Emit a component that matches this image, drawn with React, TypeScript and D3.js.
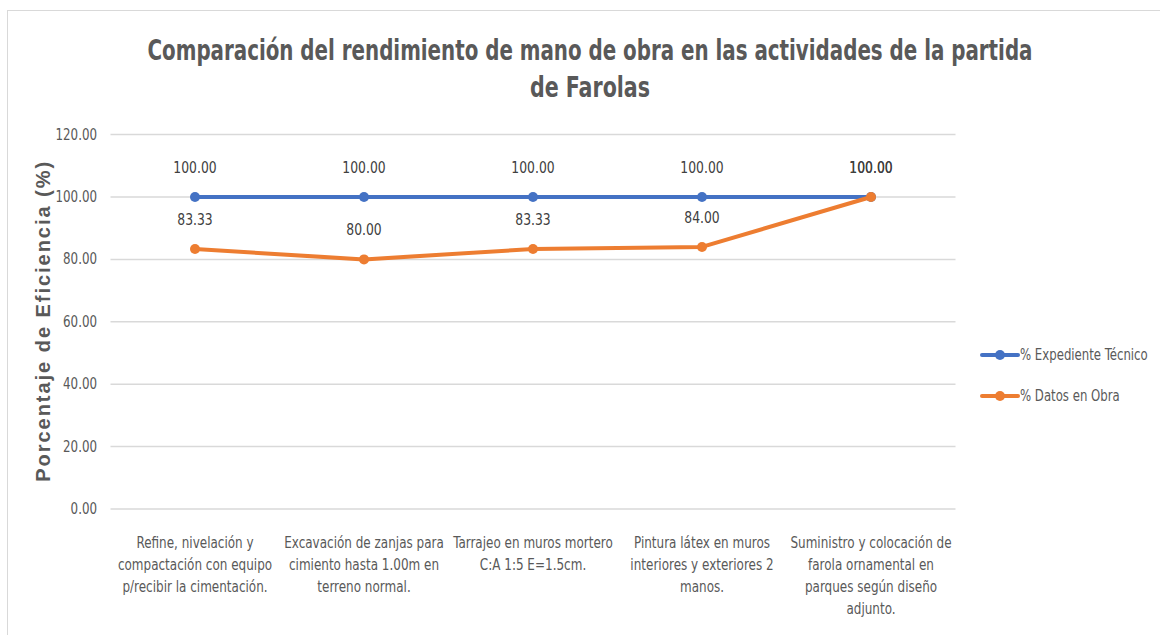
import React, { useEffect, useRef } from "react";
import * as d3 from "d3";

const categories = [
  ["Refine, nivelación y", "compactación con equipo", "p/recibir la cimentación."],
  ["Excavación de zanjas para", "cimiento hasta 1.00m en", "terreno normal."],
  ["Tarrajeo en muros mortero", "C:A 1:5 E=1.5cm."],
  ["Pintura látex en muros", "interiores y exteriores 2", "manos."],
  ["Suministro y colocación de", "farola ornamental en", "parques según diseño", "adjunto."],
];
const expediente = [100, 100, 100, 100, 100];
const datosObra = [83.33, 80.0, 83.33, 84.0, 100.0];
const yTicks = [0, 20, 40, 60, 80, 100, 120];

const series = [
  { name: "% Expediente Técnico", values: expediente, color: "#4472C4" },
  { name: "% Datos en Obra", values: datosObra, color: "#ED7D31" },
];

const NARROW = "'DejaVu Sans Condensed', 'Liberation Sans Narrow', sans-serif";

export default function App() {
  const svgRef = useRef<SVGSVGElement>(null);
  const width = 1160;
  const height = 635;
  const margin = { top: 134.6, left: 110.5, right: 204.5, bottom: 126 };

  useEffect(() => {
    if (!svgRef.current) return;
    const svg = d3.select(svgRef.current);
    svg.selectAll("*").remove();

    // chart frame
    svg.append("rect")
      .attr("x", 7.5).attr("y", 10.5)
      .attr("width", 1170).attr("height", 650)
      .attr("fill", "#fff").attr("stroke", "#d9d9d9");

    const x = d3.scaleBand<number>()
      .domain(d3.range(categories.length))
      .range([margin.left, width - margin.right]);
    const y = d3.scaleLinear()
      .domain([0, 120])
      .range([height - margin.bottom, margin.top]);
    const cx = (i: number) => (x(i) || 0) + x.bandwidth() / 2;

    // condensed text helper: squeeze horizontally around the anchor point
    const narrowText = (parent: any, px: number, py: number, str: string, size: number, sx: number, anchor: string, fill: string) =>
      parent.append("text")
        .attr("transform", `translate(${px},${py}) scale(${sx},1)`)
        .attr("text-anchor", anchor)
        .attr("font-family", NARROW).attr("font-size", size)
        .attr("fill", fill)
        .text(str);

    // title
    svg.append("text")
      .attr("x", 590).attr("y", 60)
      .attr("text-anchor", "middle")
      .attr("fill", "#595959")
      .attr("font-family", NARROW)
      .attr("font-weight", "bold")
      .attr("font-size", 28)
      .attr("textLength", 885).attr("lengthAdjust", "spacingAndGlyphs")
      .text("Comparación del rendimiento de mano de obra en las actividades de la partida");
    svg.append("text")
      .attr("x", 590).attr("y", 97)
      .attr("text-anchor", "middle")
      .attr("fill", "#595959")
      .attr("font-family", NARROW)
      .attr("font-weight", "bold")
      .attr("font-size", 28)
      .attr("textLength", 120).attr("lengthAdjust", "spacingAndGlyphs")
      .text("de Farolas");

    // gridlines + y labels
    const yAxis = svg.append("g");
    yAxis.selectAll("line").data(yTicks).enter().append("line")
      .attr("x1", margin.left).attr("x2", width - margin.right)
      .attr("y1", d => y(d)).attr("y2", d => y(d))
      .attr("stroke", "#d9d9d9").attr("stroke-width", 1.5);
    yTicks.forEach(t => {
      narrowText(yAxis, 97, y(t) + 5, d3.format(".2f")(t), 15, 0.88, "end", "#595959");
    });

    // y title
    svg.append("text")
      .attr("transform", `translate(50,${(y(0) + y(120)) / 2}) rotate(-90)`)
      .attr("text-anchor", "middle")
      .attr("font-family", "'Liberation Sans', Arial, sans-serif")
      .attr("font-weight", "bold").attr("font-size", 20)
      .attr("fill", "#595959")
      .attr("textLength", 320).attr("lengthAdjust", "spacing")
      .text("Porcentaje de Eficiencia (%)");

    // x labels
    const xl = svg.append("g");
    categories.forEach((lines, i) => {
      lines.forEach((ln, j) => {
        narrowText(xl, cx(i), 548 + j * 22, ln, 15, 0.89, "middle", "#595959");
      });
    });

    // series
    const line = d3.line<number>().x((_, i) => cx(i)).y(d => y(d));
    series.forEach(s => {
      const g = svg.append("g");
      g.append("path").datum(s.values)
        .attr("d", line)
        .attr("fill", "none").attr("stroke", s.color)
        .attr("stroke-width", 4).attr("stroke-linejoin", "round").attr("stroke-linecap", "round");
      g.selectAll("circle").data(s.values).enter().append("circle")
        .attr("cx", (_, i) => cx(i)).attr("cy", d => y(d)).attr("r", 5)
        .attr("fill", s.color);
    });
    series.forEach(s => {
      const g = svg.append("g");
      s.values.forEach((v, i) => {
        narrowText(g, cx(i), y(v) - 24, d3.format(".2f")(v), 16, 0.86, "middle", "#404040");
      });
    });

    // legend
    series.forEach((s, i) => {
      const ly = 355 + i * 41;
      const g = svg.append("g");
      g.append("line").attr("x1", 982).attr("x2", 1018).attr("y1", ly).attr("y2", ly)
        .attr("stroke", s.color).attr("stroke-width", 4).attr("stroke-linecap", "round");
      g.append("circle").attr("cx", 1000).attr("cy", ly).attr("r", 5).attr("fill", s.color);
      narrowText(g, 1020, ly + 5, s.name, 15, 0.87, "start", "#595959");
    });
  }, []);

  return (
    <svg ref={svgRef} width={width} height={height}
      style={{ position: "absolute", left: 0, top: 0, display: "block" }} />
  );
}
